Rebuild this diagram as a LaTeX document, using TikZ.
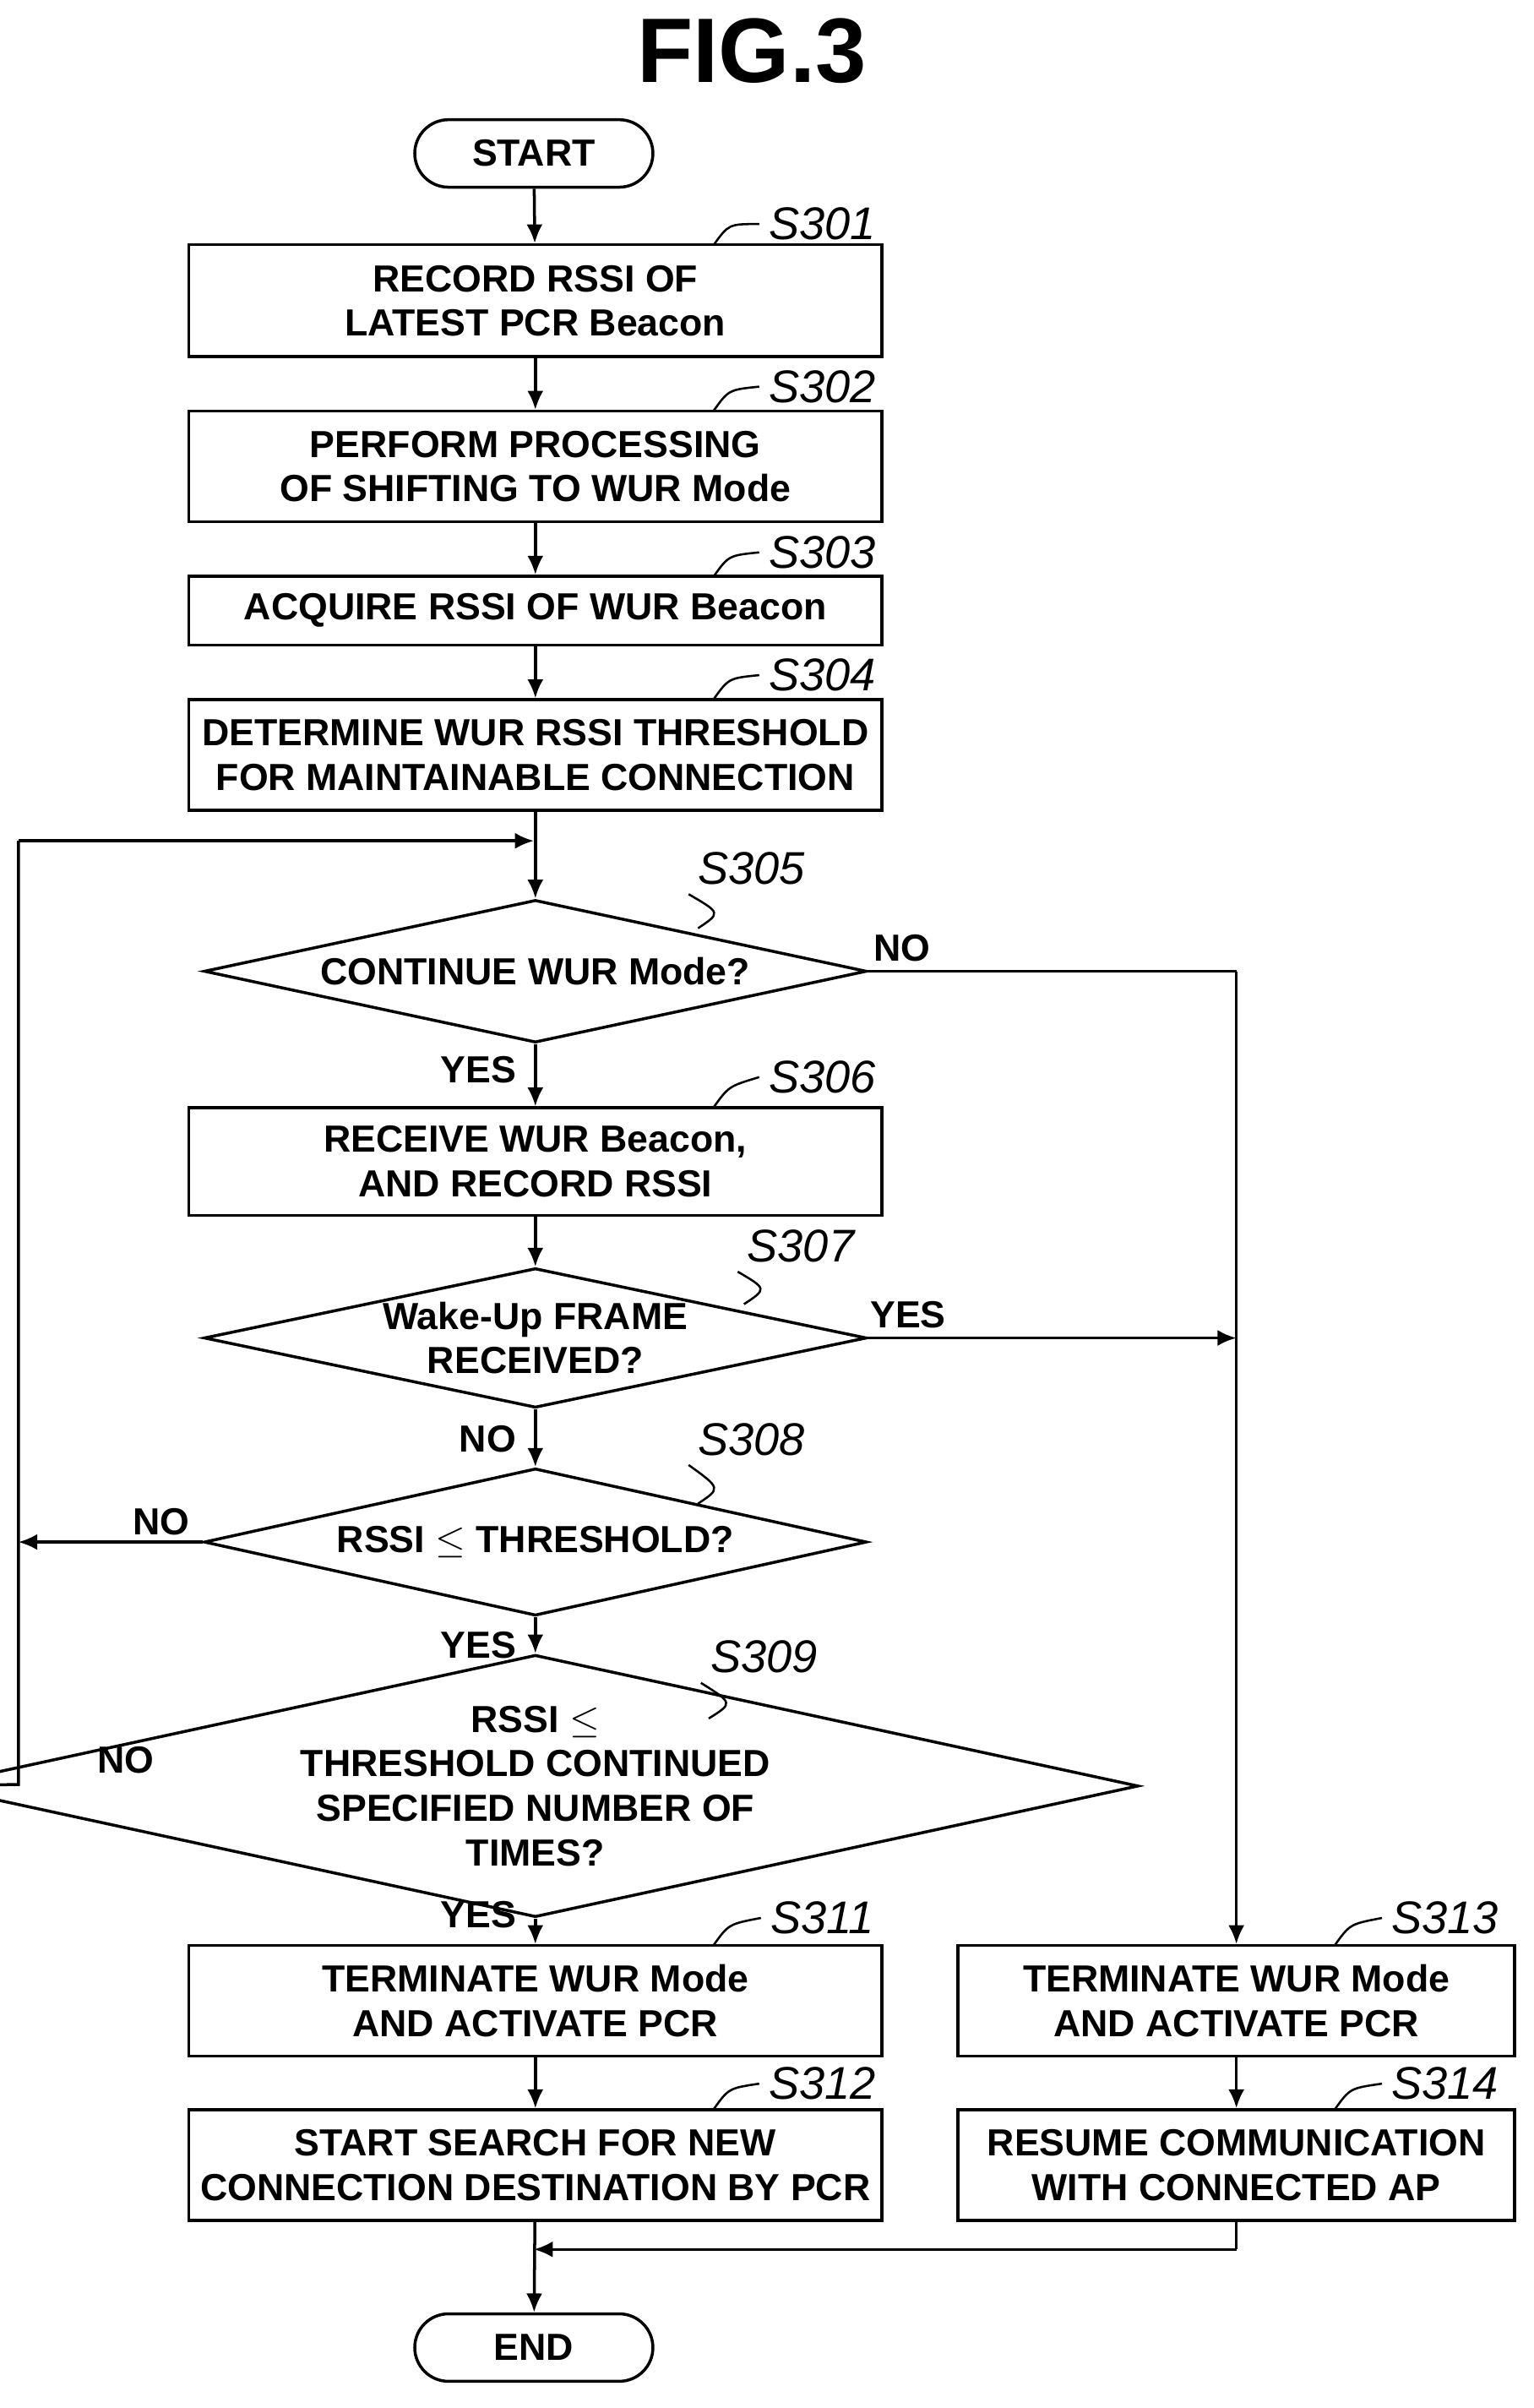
\documentclass[tikz,border=0pt]{standalone}
\usepackage{fontspec}
\setmainfont{Liberation Sans}
\usetikzlibrary{shapes.geometric,shapes.misc,arrows.meta}
\begin{document}
\begin{tikzpicture}[x=0.02cm,y=-0.02cm,
  every node/.style={font=\fontsize{14}{16.5}\selectfont\bfseries, align=center},
  box/.style={draw, line width=1.1pt, rectangle, minimum width=9.04cm, inner sep=0},
  term/.style={draw, line width=1.1pt, rounded rectangle, minimum width=3.34cm, minimum height=0.88cm},
  dia/.style={draw, line width=1.1pt, diamond, inner sep=0, aspect=4.6},
  lab/.style={font=\fontsize{17}{19}\selectfont\itshape},
  yn/.style={font=\fontsize{14}{16}\selectfont\bfseries},
  line/.style={line width=1.1pt},
  arr/.style={line, -{Latex[length=7pt,width=6pt]}},
  lead/.style={line width=0.8pt}]
\useasboundingbox (0,0) rectangle (1000,1569.4);
\node[font=\fontsize{34}{36}\selectfont\bfseries] (title) at (490,33) {FIG.3};
\node[term] (start) at (348,100) {START};
\node[box, minimum height=1.46cm] (s301) at (349,196) {RECORD RSSI OF\\LATEST PCR Beacon};
\node[box, minimum height=1.44cm] (s302) at (349,304) {PERFORM PROCESSING\\OF SHIFTING TO WUR Mode};
\node[box, minimum height=0.9cm] (s303) at (349,398) {ACQUIRE RSSI OF WUR Beacon};
\node[box, minimum height=1.44cm] (s304) at (349,492) {DETERMINE WUR RSSI THRESHOLD\\FOR MAINTAINABLE CONNECTION};
\coordinate (join) at (348,548);
\node[dia, minimum width=8.64cm, minimum height=1.86cm] (s305) at (349,633) {CONTINUE WUR Mode?};
\node[box, minimum height=1.4cm] (s306) at (349,757) {RECEIVE WUR Beacon,\\AND RECORD RSSI};
\node[dia, minimum width=8.64cm, minimum height=1.82cm] (s307) at (349,872) {Wake-Up FRAME\\RECEIVED?};
\node[dia, minimum width=8.64cm, minimum height=1.92cm] (s308) at (349,1005) {RSSI \ensuremath{\le} THRESHOLD?};
\node[dia, minimum width=9.6cm, minimum height=2.88cm] (s309) at (349,1164) {RSSI \ensuremath{\le}\\THRESHOLD CONTINUED\\SPECIFIED NUMBER OF\\TIMES?};
\node[box, minimum height=1.44cm] (s311) at (349,1304) {TERMINATE WUR Mode\\AND ACTIVATE PCR};
\node[box, minimum height=1.44cm] (s312) at (349,1411) {START SEARCH FOR NEW\\CONNECTION DESTINATION BY PCR};
\node[box, minimum width=7.26cm, minimum height=1.44cm] (s313) at (806,1304) {TERMINATE WUR Mode\\AND ACTIVATE PCR};
\node[box, minimum width=7.26cm, minimum height=1.44cm] (s314) at (806,1411) {RESUME COMMUNICATION\\WITH CONNECTED AP};
\node[term] (end) at (348,1530) {END};
\coordinate (merge) at (806,1466);
\coordinate (lt) at (12,548);
\coordinate (lb) at (12,1163);
\coordinate (rt) at (806,633);

\draw[arr] (start) -- (s301);
\draw[arr] (s301) -- (s302);
\draw[arr] (s302) -- (s303);
\draw[arr] (s303) -- (s304);
\draw[arr] (s304) -- (s305);
\draw[arr] (s305) -- (s306);
\draw[arr] (s306) -- (s307);
\draw[arr] (s307) -- (s308);
\draw[arr] (s308) -- (s309);
\draw[arr] (s309) -- (s311);
\draw[arr] (s311) -- (s312);
\draw[arr] (s312) -- (end);
\draw[arr] (s313) -- (s314);
\draw[line] (s305.east) -- (rt);
\draw[arr] (rt) -- (s313.north);
\draw[arr] (s307.east) -- (806,872);
\draw[line] (s309.west) -- (lb) -- (lt);
\draw[arr] (lt) -- (join);
\draw[arr] (s308.west) -- (12,1005);
\draw[line] (s314.south) -- (merge);
\draw[arr] (merge) -- (348,1466);

\node[yn] at (588,618) {NO};
\node[yn] at (312,697) {YES};
\node[yn] at (592,857) {YES};
\node[yn] at (318,938) {NO};
\node[yn] at (105,992) {NO};
\node[yn] at (312,1072) {YES};
\node[yn] at (82,1147) {NO};
\node[yn] at (312,1248) {YES};

\node[lab] (l301) at (536,146) {S301};
\node[lab] (l302) at (536,252) {S302};
\node[lab] (l303) at (536,360) {S303};
\node[lab] (l304) at (536,440) {S304};
\node[lab] (l305) at (490,566) {S305};
\node[lab] (l306) at (536,702) {S306};
\node[lab] (l307) at (522,812) {S307};
\node[lab] (l308) at (490,938) {S308};
\node[lab] (l309) at (498,1080) {S309};
\node[lab] (l311) at (536,1250) {S311};
\node[lab] (l312) at (536,1358) {S312};
\node[lab] (l313) at (942,1250) {S313};
\node[lab] (l314) at (942,1358) {S314};
\foreach \l/\x/\y in {l301/465/160,l302/465/268,l303/465/376,l304/465/456,l306/465/722,l311/465/1268,l312/465/1375,l313/870/1268,l314/870/1375}
  \draw[lead] (\l.west) .. controls (\x+10,\y-14) .. (\x,\y);
\draw[lead] (l305.south west) .. controls (470,595) .. (455,605);
\draw[lead] (l307.south west) .. controls (500,840) .. (485,850);
\draw[lead] (l308.south west) .. controls (470,970) .. (455,980);
\draw[lead] (l309.south west) .. controls (478,1110) .. (462,1120);
\end{tikzpicture}
\end{document}
